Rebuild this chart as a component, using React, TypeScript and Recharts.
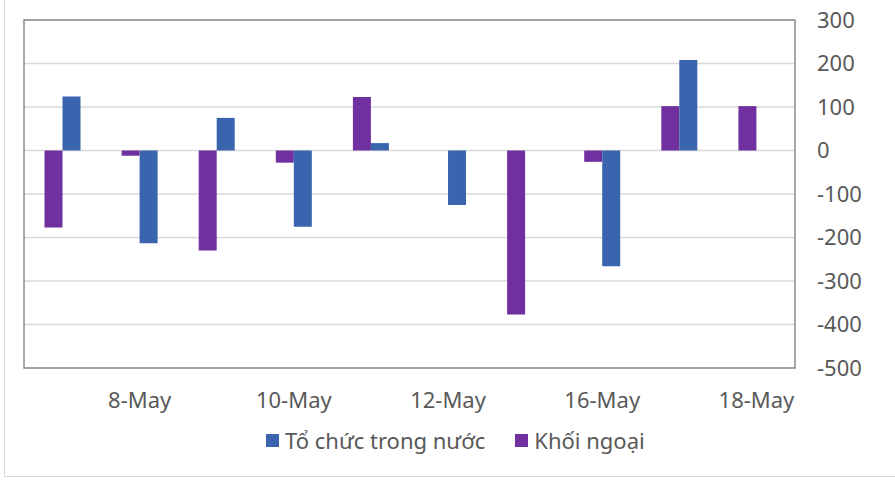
import React from 'react';
import { BarChart, Bar, XAxis, YAxis, CartesianGrid, Legend, ReferenceArea } from 'recharts';

const dates = ['7-May', '8-May', '9-May', '10-May', '11-May', '12-May', '15-May', '16-May', '17-May', '18-May'];
const toChucTrongNuoc = [124, -213, 75, -175, 17, -125, 0, -266, 208, 0];
const khoiNgoai = [-177, -12, -230, -28, 123, 0, -377, -26, 102, 102];
const dateTicks = ['8-May', '10-May', '12-May', '16-May', '18-May'];
const valueTicks = [-500, -400, -300, -200, -100, 0, 100, 200, 300];

const BLUE = '#3a64ad';
const PURPLE = '#7030a0';
const TEXT = '#595959';
const FONT = '"Noto Sans", sans-serif';

const data = dates.map((d, i) => ({ date: d, toChuc: toChucTrongNuoc[i], khoiNgoai: khoiNgoai[i] }));

const legendItems = [
  { name: 'Tổ chức trong nước', color: BLUE },
  { name: 'Khối ngoại', color: PURPLE },
];

const ChartLegend = () => (
  <div style={{ display: 'flex', alignItems: 'center', height: 24, paddingLeft: 266, fontFamily: FONT, fontSize: 22, color: TEXT, lineHeight: '24px' }}>
    {legendItems.map((it, i) => (
      <div key={it.name} style={{ display: 'flex', alignItems: 'center', marginRight: i === 0 ? 30 : 0 }}>
        <span style={{ width: 13, height: 13, background: it.color, marginRight: 6, display: 'inline-block' }} />
        <span style={{ whiteSpace: 'nowrap' }}>{it.name}</span>
      </div>
    ))}
  </div>
);

export default function App() {
  return (
    <div style={{ position: 'absolute', left: 0, top: 0, width: 895, height: 482, overflow: 'hidden', background: '#fff' }}>
      {/* outer frame: only left and bottom edges are visible */}
      <div style={{ position: 'absolute', left: 4, top: -4, width: 900, height: 481, borderLeft: '1.5px solid #d9d9d9', borderBottom: '1.5px solid #d9d9d9', boxSizing: 'border-box' }} />
      <BarChart
        width={895}
        height={482}
        data={data}
        margin={{ top: 20, left: 24, right: 20, bottom: 74 }}
        barCategoryGap="26.6%"
        barGap={0}
        style={{ position: 'absolute', left: 0, top: 0 }}
      >
        <CartesianGrid horizontal vertical={false} stroke="#d9d9d9" strokeWidth={1.5} />
        <XAxis
          dataKey="date"
          ticks={dateTicks}
          interval={0}
          height={40}
          axisLine={false}
          tickLine={false}
          tickSize={0}
          tickMargin={24}
          tick={{ fill: TEXT, fontSize: 22, fontFamily: FONT }}
        />
        <YAxis
          orientation="right"
          width={80}
          domain={[-500, 300]}
          ticks={valueTicks}
          interval={0}
          axisLine={false}
          tickLine={false}
          tickSize={0}
          tickMargin={22}
          tick={{ fill: TEXT, fontSize: 22, fontFamily: FONT, textAnchor: 'start' }}
        />
        <Bar dataKey="khoiNgoai" name="Khối ngoại" fill={PURPLE} isAnimationActive={false} />
        <Bar dataKey="toChuc" name="Tổ chức trong nước" fill={BLUE} isAnimationActive={false} />
        <ReferenceArea y1={-500} y2={300} fill="none" stroke="#8c8c8c" strokeWidth={1.5} ifOverflow="visible" />
        <Legend
          layout="horizontal"
          verticalAlign="middle"
          content={() => <ChartLegend />}
          wrapperStyle={{ top: 428, left: 0, width: 895 }}
        />
      </BarChart>
    </div>
  );
}
